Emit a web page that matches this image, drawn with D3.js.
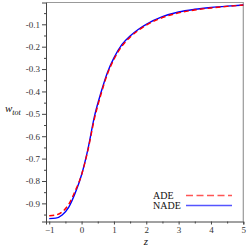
<!DOCTYPE html>
<html>
<head>
<meta charset="utf-8">
<script src="https://cdn.jsdelivr.net/npm/d3@7"></script>
<style>
  html, body { margin: 0; padding: 0; background: #fff; }
  svg text { font-family: "Liberation Serif", "DejaVu Serif", serif !important; }
</style>
</head>
<body>
<div id="chart"></div>
<script>
// redshift samples
const zValues = [-1, -0.8, -0.6, -0.4, -0.2, 0, 0.2, 0.4, 0.6, 0.8, 1, 1.25, 1.5, 1.75, 2, 2.5, 3, 3.5, 4, 4.5, 5];
// w_tot
const adeValues = [-0.955, -0.952, -0.938, -0.905, -0.845, -0.772, -0.66, -0.52, -0.413, -0.322, -0.257, -0.197, -0.158, -0.128, -0.104, -0.07, -0.049, -0.036, -0.027, -0.02, -0.014];
const nadeValues = [-0.968, -0.966, -0.952, -0.918, -0.855, -0.772, -0.655, -0.51, -0.405, -0.315, -0.25, -0.19, -0.152, -0.123, -0.1, -0.066, -0.045, -0.033, -0.025, -0.019, -0.014];
const xTicks = [-1, 0, 1, 2, 3, 4, 5];
const yTicks = [-0.9, -0.8, -0.7, -0.6, -0.5, -0.4, -0.3, -0.2, -0.1];
const seriesNames = ['ADE', 'NADE'];

const width = 249, height = 249;
const m = { left: 46, right: 243.3, top: 2.5, bottom: 221.5 };

const svg = d3.select('#chart').append('svg')
  .attr('width', width)
  .attr('height', height);

const x = d3.scaleLinear().domain([-1.1, 5]).range([m.left, m.right]);
const y = d3.scaleLinear().domain([-0.981, -0.0026]).range([m.bottom, m.top]);

// frame (top and right in grey)
svg.append('path')
  .attr('d', `M${m.left},${m.top}H${m.right}V${m.bottom}`)
  .attr('fill', 'none')
  .attr('stroke', '#999')
  .attr('stroke-width', 1.2);

// minor ticks
const xMinor = d3.range(-1, 5.01, 0.5).filter(v => !xTicks.includes(v));
const yMinor = d3.range(-0.95, 0, 0.1).map(v => +v.toFixed(2));

svg.append('g')
  .attr('transform', `translate(0,${m.bottom})`)
  .call(d3.axisBottom(x).tickValues(xTicks).tickSize(3).tickPadding(2).tickFormat(d3.format('d')));
svg.append('g')
  .attr('transform', `translate(0,${m.bottom})`)
  .call(d3.axisBottom(x).tickValues(xMinor).tickSize(2).tickFormat(''))
  .select('.domain').remove();

svg.append('g')
  .attr('transform', `translate(${m.left},0)`)
  .call(d3.axisLeft(y).tickValues(yTicks).tickSize(4).tickPadding(2).tickFormat(d => d.toFixed(1)));
svg.append('g')
  .attr('transform', `translate(${m.left},0)`)
  .call(d3.axisLeft(y).tickValues(yMinor).tickSize(2).tickFormat(''))
  .select('.domain').remove();

svg.selectAll('g').attr('font-family', null);
svg.selectAll('.tick text')
  .style('font-family', '"Liberation Serif", serif')
  .attr('font-size', 9)
  .attr('fill', '#333');
svg.selectAll('.domain').attr('stroke', '#444');
svg.selectAll('.tick line').attr('stroke', '#444');

// curves
const line = d3.line()
  .x(d => x(d[0]))
  .y(d => y(d[1]))
  .curve(d3.curveMonotoneX);

svg.append('path')
  .datum(zValues.map((z, i) => [z, nadeValues[i]]))
  .attr('d', line)
  .attr('fill', 'none')
  .attr('stroke', '#0000ff')
  .attr('stroke-width', 1.4);

svg.append('path')
  .datum(zValues.map((z, i) => [z, adeValues[i]]))
  .attr('d', line)
  .attr('fill', 'none')
  .attr('stroke', '#ff0000')
  .attr('stroke-width', 1.4)
  .attr('stroke-dasharray', '5,3');

// legend
const legend = svg.append('g');
seriesNames.forEach((name, i) => {
  const ly = 195.5 + i * 10;
  legend.append('text')
    .attr('x', 153)
    .attr('y', ly + 3.5)
    .attr('font-size', 10)
    .attr('fill', '#111')
    .text(name);
  legend.append('line')
    .attr('x1', 186).attr('x2', 232)
    .attr('y1', ly).attr('y2', ly)
    .attr('stroke', i === 0 ? '#ff5555' : '#5555ff')
    .attr('stroke-width', 1.5)
    .attr('stroke-dasharray', i === 0 ? '7,3.5' : null);
});

// axis titles
svg.append('text')
  .attr('x', 146)
  .attr('y', 245)
  .attr('text-anchor', 'middle')
  .attr('font-size', 11)
  .attr('font-style', 'italic')
  .attr('fill', '#111')
  .text('z');

const yTitle = svg.append('text')
  .attr('x', 5)
  .attr('y', 112)
  .attr('font-size', 11)
  .attr('font-style', 'italic')
  .attr('fill', '#111');
yTitle.append('tspan').text('w');
yTitle.append('tspan').attr('dy', 3).attr('font-size', 8).text('tot');
</script>
</body>
</html>
